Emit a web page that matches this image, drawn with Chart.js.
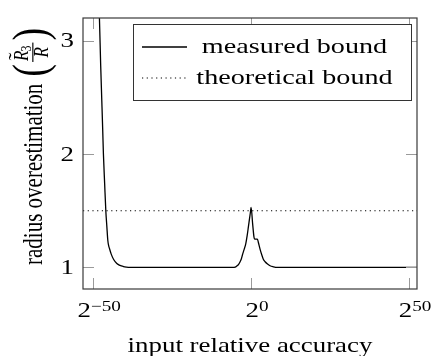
<!DOCTYPE html>
<html>
<head>
<meta charset="utf-8">
<script src="https://cdn.jsdelivr.net/npm/chart.js@4"></script>
<style>
  html, body { margin: 0; padding: 0; background: #fff; }
  #wrap { width: 431px; height: 356px; }
</style>
</head>
<body>
<div id="wrap"><canvas id="chart" width="431" height="356"></canvas></div>
<script>
  // x values are log2 of the input relative accuracy
  const measuredExp = [-48.3, -48.0, -47.6, -47.25, -46.95, -46.74, -46.35, -45.98, -45.65, -45.35,
    -45.1, -44.8, -44.3, -43.5, -42.5, -41.5, -40.4, -39.5, -38.5, -20, -6,
    -5, -4.4, -3.9, -3.48, -3.1, -2.75, -2.2, -1.68, -1.25, -0.85,
    -0.5, -0.25, 0, 0.5, 0.9, 1.1, 2.0, 2.3, 2.85, 3.39,
    3.9, 4.43, 5.2, 6.0, 7.0, 8.2, 30, 52.5];
  const measuredVal = [3.45, 3.2, 2.78, 2.47, 2.2, 2.0, 1.74, 1.5, 1.36, 1.24,
    1.195, 1.165, 1.12, 1.07, 1.035, 1.018, 1.008, 1.003, 1.0, 1.0, 1.0,
    1.003, 1.015, 1.03, 1.05, 1.075, 1.11, 1.16, 1.21, 1.28, 1.36,
    1.43, 1.48, 1.53, 1.38, 1.27, 1.25, 1.25, 1.22, 1.16, 1.11,
    1.07, 1.05, 1.03, 1.015, 1.006, 1.0, 1.0, 1.0];
  const theoreticalExp = [-53.2, 52.5];
  const theoreticalVal = [1.5, 1.5];
  const xTicks = [-50, 0, 50];
  const yTicks = [1, 2, 3];
  const seriesLabels = ["measured bound", "theoretical bound"];
  const xTitle = "input relative accuracy";
  const yTitle = "radius overestimation";

  const FONT = "'Liberation Serif', serif";
  const SX = 1.28; // the picture is wider than it is tall, text too
  const DOTS = [1.2, 3.5];

  function toPoints(xs, ys) {
    let pts = [];
    for (let i = 0; i < xs.length; i++) {
      pts.push({x: xs[i], y: ys[i]});
    }
    return pts;
  }

  function setFont(ctx, size, italic) {
    ctx.font = (italic ? "italic " : "") + size + "px " + FONT;
  }

  function drawText(ctx, text, x, y, size, align) {
    ctx.save();
    ctx.translate(x, y);
    ctx.scale(SX, 1);
    setFont(ctx, size, false);
    ctx.textAlign = align;
    ctx.textBaseline = "alphabetic";
    ctx.fillText(text, 0, 0);
    ctx.restore();
  }

  function widthOf(ctx, text, size, italic) {
    setFont(ctx, size, italic);
    return ctx.measureText(text).width;
  }

  function drawFrame(chart) {
    let ctx = chart.ctx;
    let a = chart.chartArea;
    let xs = chart.scales.x;
    let ys = chart.scales.y;
    ctx.save();
    ctx.strokeStyle = "#9a9a9a";
    ctx.lineWidth = 1;
    ctx.beginPath();
    xs.ticks.forEach(function(t) {
      let px = Math.round(xs.getPixelForValue(t.value)) + 0.5;
      ctx.moveTo(px, a.bottom); ctx.lineTo(px, a.bottom - 11);
      ctx.moveTo(px, a.top); ctx.lineTo(px, a.top + 11);
    });
    ys.ticks.forEach(function(t) {
      let py = Math.round(ys.getPixelForValue(t.value)) + 0.5;
      ctx.moveTo(a.left, py); ctx.lineTo(a.left + 11, py);
      ctx.moveTo(a.right, py); ctx.lineTo(a.right - 11, py);
    });
    ctx.stroke();
    ctx.strokeStyle = "#3a3a3a";
    ctx.lineWidth = 1.2;
    ctx.strokeRect(a.left, a.top, a.right - a.left, a.bottom - a.top);
    ctx.restore();
  }

  function drawTickLabels(chart) {
    let ctx = chart.ctx;
    let a = chart.chartArea;
    let xs = chart.scales.x;
    let ys = chart.scales.y;
    ctx.save();
    ctx.fillStyle = "#000";
    xs.ticks.forEach(function(t) {
      let px = xs.getPixelForValue(t.value);
      let sup = t.value < 0 ? "\u2212" + Math.abs(t.value) : String(t.value);
      let wb = widthOf(ctx, "2", 21) * SX;
      let ws = widthOf(ctx, sup, 15) * SX;
      let left = px + 6 - (wb + ws) / 2;
      drawText(ctx, "2", left, a.bottom + 28, 21, "left");
      drawText(ctx, sup, left + wb, a.bottom + 21.5, 15, "left");
    });
    ys.ticks.forEach(function(t) {
      let py = ys.getPixelForValue(t.value);
      drawText(ctx, String(t.value), a.left - 9, py + 6.5, 21, "right");
    });
    ctx.restore();
  }

  function drawTitles(chart) {
    let ctx = chart.ctx;
    let a = chart.chartArea;
    ctx.save();
    ctx.fillStyle = "#000";
    drawText(ctx, xTitle, (a.left + a.right) / 2, 351.5, 21, "center");

    // rotated y title with the R3~/R fraction
    ctx.translate(42, 265);
    ctx.scale(SX, 1);
    ctx.rotate(-Math.PI / 2);
    ctx.textBaseline = "alphabetic";
    ctx.textAlign = "left";
    setFont(ctx, 21, false);
    ctx.fillText(yTitle, 0, 0);
    let p = ctx.measureText(yTitle).width + 7;
    setFont(ctx, 38, false);
    ctx.fillText("(", p, 3);
    p += ctx.measureText("(").width + 2;
    let wR = widthOf(ctx, "R", 17, true);
    let w3 = widthOf(ctx, "3", 12, false);
    let barW = wR + w3 + 3;
    setFont(ctx, 17, true);
    ctx.fillText("R", p + 1, -11);
    setFont(ctx, 12, false);
    ctx.fillText("3", p + wR, -8.5);
    setFont(ctx, 16, false);
    ctx.save();
    ctx.translate(p + 1.5, -15);
    ctx.scale(1.5, 1);
    ctx.fillText("\u02DC", 0, 0);
    ctx.restore();
    ctx.fillRect(p, -7.6, barW, 0.9);
    setFont(ctx, 17, true);
    ctx.fillText("R", p + (barW - wR) / 2, 5);
    p += barW + 2;
    setFont(ctx, 38, false);
    ctx.fillText(")", p, 3);
    ctx.restore();
  }

  function drawLegend(chart) {
    let ctx = chart.ctx;
    let a = chart.chartArea;
    let bx = a.left + 50, by = a.top + 6;
    let bw = a.right - 6 - bx, bh = 76;
    ctx.save();
    ctx.fillStyle = "#fff";
    ctx.fillRect(bx, by, bw, bh);
    ctx.strokeStyle = "#333";
    ctx.lineWidth = 1;
    ctx.strokeRect(bx + 0.5, by + 0.5, bw, bh);
    let rows = [by + 23, by + 54];
    chart.data.datasets.forEach(function(ds, i) {
      ctx.strokeStyle = "#000";
      ctx.lineWidth = ds.borderWidth;
      ctx.setLineDash(ds.borderDash || []);
      ctx.beginPath();
      ctx.moveTo(bx + 9, rows[i]);
      ctx.lineTo(bx + 54, rows[i]);
      ctx.stroke();
      ctx.setLineDash([]);
      ctx.fillStyle = "#000";
      drawText(ctx, ds.label, bx + 161.5, rows[i] + 5.5, 22, "center");
    });
    ctx.restore();
  }

  const pgfLook = {
    id: "pgfLook",
    afterDatasetsDraw: function(chart) {
      drawFrame(chart);
      drawTickLabels(chart);
      drawTitles(chart);
      drawLegend(chart);
    }
  };

  function main() {
    let ctx = document.getElementById("chart").getContext("2d");
    let chart = new Chart(ctx, {
      type: "line",
      data: {
        datasets: [{
          label: seriesLabels[0],
          data: toPoints(measuredExp, measuredVal),
          borderColor: "#000",
          borderWidth: 1.3,
          pointRadius: 0,
          cubicInterpolationMode: "monotone",
          fill: false
        }, {
          label: seriesLabels[1],
          data: toPoints(theoreticalExp, theoreticalVal),
          borderColor: "#000",
          borderWidth: 1.2,
          borderDash: DOTS,
          pointRadius: 0,
          fill: false
        }]
      },
      options: {
        responsive: false,
        animation: false,
        devicePixelRatio: 1,
        layout: { padding: { left: 83, right: 14, top: 18, bottom: 67 } },
        plugins: { legend: { display: false }, tooltip: { enabled: false } },
        scales: {
          x: {
            type: "linear",
            min: -53.2,
            max: 52.5,
            grid: { display: false, drawTicks: false },
            border: { display: false },
            ticks: { display: false },
            afterBuildTicks: function(s) { s.ticks = xTicks.map(function(v) { return {value: v}; }); },
            afterFit: function(s) { s.height = 0; }
          },
          y: {
            type: "linear",
            min: 0.81,
            max: 3.2,
            grid: { display: false, drawTicks: false },
            border: { display: false },
            ticks: { display: false },
            afterBuildTicks: function(s) { s.ticks = yTicks.map(function(v) { return {value: v}; }); },
            afterFit: function(s) { s.width = 0; }
          }
        }
      },
      plugins: [pgfLook]
    });
  }

  window.addEventListener("load", main);
</script>
</body>
</html>
